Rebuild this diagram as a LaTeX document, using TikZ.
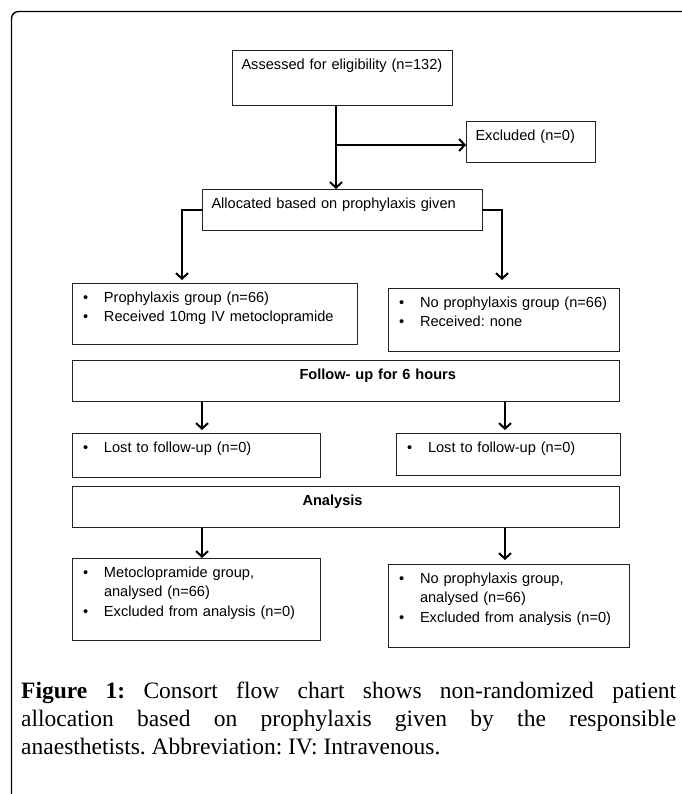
\documentclass[tikz,border=0pt]{standalone}
\usepackage{fontspec}
\setmainfont{Liberation Serif}
\setsansfont{Liberation Sans}
\usepackage{xcolor}
\usetikzlibrary{arrows.meta, calc}
\definecolor{boxgray}{RGB}{35,35,35}
\frenchspacing

% bullet line with hanging indent
\newcommand{\bul}[1]{\makebox[22.5pt][l]{\hspace*{1.5pt}\textbullet}\begin{tabular}[t]{@{}l@{}}#1\end{tabular}}

\begin{document}
\begin{tikzpicture}[x=1pt, y=-1pt,
    cbox/.style={draw=boxgray, line width=1pt, anchor=north west, align=left,
        font=\sffamily\fontsize{14.6}{19}\selectfont, inner xsep=9pt, inner ysep=6pt,
        text height=13pt},
    arr/.style={line width=2pt, -{Straight Barb[length=5.5pt, width=12pt]}},
    ]
\useasboundingbox (0,0) rectangle (681,794);

% outer frame
\draw[line width=1.4pt, rounded corners=7pt] (11.5,800) -- (11.5,11.5) -- (700,11.5);

% boxes
\node[cbox, text width=202pt, text depth=30pt] (assess) at (232,50) {Assessed for eligibility (n=132)};
\node[cbox, text width=111pt, text depth=16pt] (excl) at (466,121) {Excluded (n=0)};
\node[cbox, text width=262pt, text depth=16pt] (alloc) at (202,189) {Allocated based on prophylaxis given};

\node[cbox, text width=267pt, text depth=36pt] (proph) at (72,283)
    {\bul{Prophylaxis group (n=66)}\\ \bul{Received 10mg IV metoclopramide}};
\node[cbox, text width=213pt, text depth=38pt] (noproph) at (388,288)
    {\bul{No prophylaxis group (n=66)}\\ \bul{Received: none}};

\node[cbox, text width=529pt, text depth=16pt] (follow) at (72,360)
    {\hspace*{218pt}\bfseries Follow- up for 6 hours};

\node[cbox, text width=230pt, text depth=19pt] (lostl) at (72,433) {\bul{Lost to follow-up (n=0)}};
\node[cbox, text width=206pt, text depth=17pt] (lostr) at (396,433) {\bul{Lost to follow-up (n=0)}};

\node[cbox, text width=529pt, text depth=16pt] (analysis) at (72,486)
    {\hspace*{221pt}\bfseries Analysis};

\node[cbox, text width=230pt, text depth=57pt] (metoan) at (72,558)
    {\bul{Metoclopramide group,\\ analysed (n=66)}\\ \bul{Excluded from analysis (n=0)}};
\node[cbox, text width=223pt, text depth=58pt] (noprophan) at (388,564)
    {\bul{No prophylaxis group,\\ analysed (n=66)}\\ \bul{Excluded from analysis (n=0)}};

% connector columns
\coordinate (trunk) at (336,0);
\coordinate (fork) at (336,145);
\coordinate (lx) at (182,0);
\coordinate (rx) at (502,0);
\coordinate (lcol) at (202,0);
\coordinate (rcol) at (505,0);

\draw[arr] (assess.south -| trunk) -- (alloc.north -| trunk);
\draw[arr] (fork) -- (fork -| excl.west);
\draw[arr] (alloc.west) -| ($(proph.north -| lx)+(0,-3)$);
\draw[arr] (alloc.east) -| ($(noproph.north -| rx)+(0,-8)$);
\draw[arr] (follow.south -| lcol) -- ($(lostl.north -| lcol)+(0,-3)$);
\draw[arr] (follow.south -| rcol) -- ($(lostr.north -| rcol)+(0,-3)$);
\draw[arr] (analysis.south -| lcol) -- (metoan.north -| lcol);
\draw[arr] (analysis.south -| rcol) -- ($(noprophan.north -| rcol)+(0,-4)$);

% caption
\node[anchor=base west, text width=655pt, align=justify, inner sep=0pt,
      font=\fontsize{23.5}{28.3}\selectfont] (caption) at (21,698)
    {\textbf{Figure 1:} Consort flow chart shows non-randomized patient\linebreak
     allocation based on prophylaxis given by the responsible\linebreak
     anaesthetists. Abbreviation: IV: Intravenous.};
\end{tikzpicture}
\end{document}
